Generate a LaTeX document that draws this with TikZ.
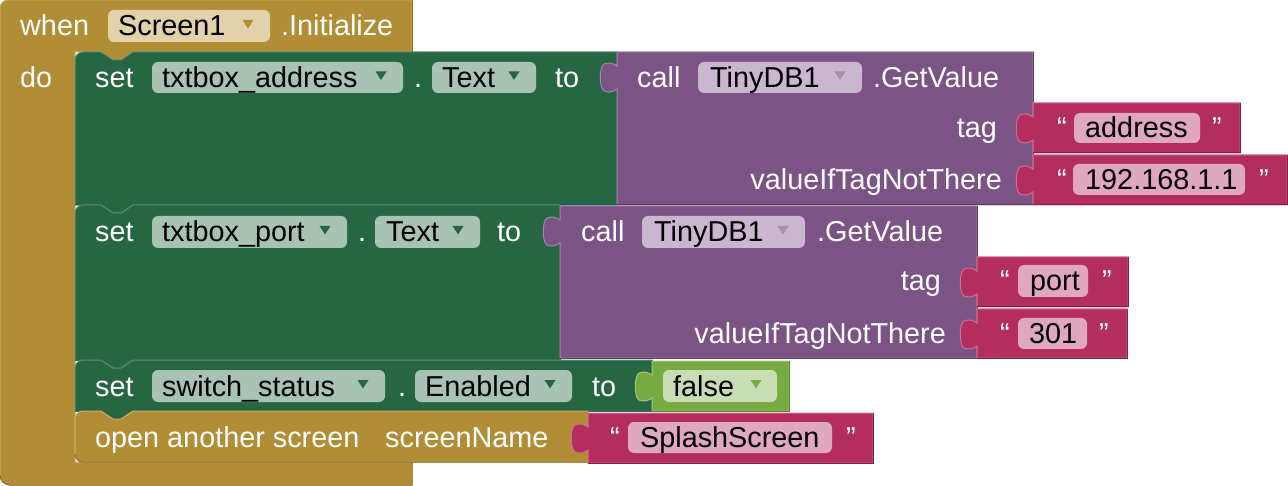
\documentclass[tikz,border=0pt]{standalone}
\usepackage{fontspec}
\setmainfont{Liberation Sans}
\newcommand{\blk}{\fontsize{28.8}{34}\selectfont}

% block palette: base, highlight (top/left) and shade (bottom/right)
\definecolor{ctl}{HTML}{B18E35}\definecolor{ctlhi}{HTML}{C9AE6A}\definecolor{ctllo}{HTML}{8C6F27}
\definecolor{set}{HTML}{266643}\definecolor{sethi}{HTML}{5D8C72}\definecolor{setlo}{HTML}{1B4B31}
\definecolor{mth}{HTML}{7C5385}\definecolor{mthhi}{HTML}{A386AA}\definecolor{mthlo}{HTML}{5B3C62}
\definecolor{txt}{HTML}{B32D5E}\definecolor{txthi}{HTML}{CF6E92}\definecolor{txtlo}{HTML}{842043}
\definecolor{lgc}{HTML}{77AB41}\definecolor{lgchi}{HTML}{A3C77E}\definecolor{lgclo}{HTML}{58822F}
% field (pill) colours
\definecolor{ctlpill}{HTML}{E1D2AC}
\definecolor{setpill}{HTML}{A8C2B4}
\definecolor{mthpill}{HTML}{C8B7CE}
\definecolor{mtharrow}{HTML}{A88EAF}
\definecolor{txtpill}{HTML}{E0A8C0}
\definecolor{lgcpill}{HTML}{C9DDB4}

% statement block: x1 y1 x2 y2 colour (notch on top, tab below)
\newcommand{\stmtblock}[5]{%
  \filldraw[fill=#5, draw=#5hi, line width=1pt]
    (#1,#2+8) .. controls (#1,#2+3.6) and (#1+3.6,#2) .. (#1+8,#2)
    -- (#1+26,#2) -- (#1+38,#2+8) -- (#1+46,#2+8) -- (#1+58,#2)
    -- (#3,#2) -- (#3,#4) -- (#1+58,#4) -- (#1+46,#4+8) -- (#1+38,#4+8)
    -- (#1+26,#4) -- (#1,#4) -- cycle;
  \draw[#5lo, line width=1pt] (#3,#2) -- (#3,#4) -- (#1+58,#4) -- (#1+46,#4+8)
    -- (#1+38,#4+8) -- (#1+26,#4) -- (#1,#4);
}
% value block with output tab on the left: x1 y1 x2 y2 colour
\newcommand{\valblock}[5]{%
  \filldraw[fill=#5, draw=#5hi, line width=1pt]
    (#1,#2) -- (#3,#2) -- (#3,#4) -- (#1,#4) -- (#1,#2+37)
    .. controls (#1-4,#2+40) and (#1-9,#2+41) .. (#1-13,#2+39)
    .. controls (#1-18,#2+36) and (#1-18,#2+15) .. (#1-13,#2+12)
    .. controls (#1-9,#2+10) and (#1-4,#2+11) .. (#1,#2+14) -- cycle;
  \draw[#5lo, line width=1pt] (#3,#2) -- (#3,#4) -- (#1,#4);
}
% field background
\newcommand{\pill}[5]{\fill[#5, rounded corners=6pt] (#1,#2) rectangle (#3,#4);}
% dropdown arrow: centre x, row centre y, colour
\newcommand{\ddarrow}[3]{\fill[#3] (#1-5.5,#2-6) -- (#1+5.5,#2-6) -- (#1,#2+2.5) -- cycle;}

\begin{document}
\begin{tikzpicture}[x=1pt, y=-1pt,
  lbl/.style={text=white, font=\blk, inner sep=0pt, anchor=base west},
  fld/.style={lbl, text=black},
  lble/.style={lbl, anchor=base east}]
\useasboundingbox (0,0) rectangle (1288,486);

% event block "when Screen1.Initialize"
\filldraw[fill=ctl, draw=ctlhi, line width=1pt]
  (0,8) .. controls (0,3.6) and (3.6,0) .. (8,0) -- (412,0) -- (412,52)
  -- (133,52) -- (121,60) -- (113,60) -- (101,52) -- (75,52) -- (75,462)
  -- (412,462) -- (412,485) -- (10,485) .. controls (4.5,485) and (0,480.5) .. (0,475) -- cycle;
\draw[ctllo, line width=1pt] (412,0) -- (412,52);
\draw[ctllo, line width=1pt] (412,462) -- (412,485) -- (10,485) .. controls (4.5,485) and (0,480.5) .. (0,475);

% statement stack
\stmtblock{75}{52}{617}{205}{set}
\stmtblock{75}{205}{560}{360}{set}
\stmtblock{75}{360}{652}{411}{set}
% open another screen (last in stack, rounded lower corner)
\filldraw[fill=ctl, draw=ctlhi, line width=1pt]
  (75,419) .. controls (75,414.6) and (78.6,411) .. (83,411)
  -- (101,411) -- (113,419) -- (121,419) -- (133,411)
  -- (588,411) -- (588,462) -- (83,462) .. controls (78.6,462) and (75,458.4) .. (75,454) -- cycle;
\draw[ctllo, line width=1pt] (588,411) -- (588,462) -- (83,462) .. controls (78.6,462) and (75,458.4) .. (75,454);

% value blocks
\valblock{617}{52}{1033}{205}{mth}
\valblock{560}{206}{977}{358}{mth}
\valblock{652}{361}{789}{411}{lgc}
\valblock{1033}{103}{1240}{153}{txt}
\valblock{1033}{155}{1287}{205}{txt}
\valblock{977}{257}{1128}{307}{txt}
\valblock{977}{309}{1127}{358}{txt}
\valblock{588}{413}{873}{463}{txt}

% fields
\pill{108}{10}{270}{42}{ctlpill}       \ddarrow{248}{26}{ctl}
\pill{152}{62}{403}{93}{setpill}       \ddarrow{381}{77.5}{set}
\pill{432}{62}{536}{93}{setpill}       \ddarrow{514}{77.5}{set}
\pill{698}{62}{862}{93}{mthpill}       \ddarrow{840}{77.5}{mtharrow}
\pill{1074}{113}{1200}{143}{txtpill}
\pill{1073}{164}{1245}{195}{txtpill}
\pill{152}{216}{347}{248}{setpill}     \ddarrow{325}{232}{set}
\pill{375}{216}{480}{248}{setpill}     \ddarrow{458}{232}{set}
\pill{642}{216}{805}{248}{mthpill}     \ddarrow{783}{232}{mtharrow}
\pill{1018}{265}{1088}{297}{txtpill}
\pill{1018}{318}{1087}{349}{txtpill}
\pill{152}{370}{385}{402}{setpill}     \ddarrow{363}{386}{set}
\pill{415}{370}{572}{402}{setpill}     \ddarrow{550}{386}{set}
\pill{663}{370}{777}{402}{lgcpill}     \ddarrow{756}{386}{lgc}
\pill{628}{422}{832}{453}{txtpill}

% labels: event header
\node[lbl] (when) at (20,36) {when};
\node[fld] (scr) at (118,36) {Screen1};
\node[lbl] (init) at (281,36) {.Initialize};
\node[lbl] (do) at (20,87.5) {do};

% set txtbox_address.Text
\node[lbl] (set1) at (95,87.5) {set};
\node[fld] (comp1) at (162,87.5) {txtbox\_address};
\node[lbl] (dot1) at (414,87.5) {.};
\node[fld] (prop1) at (442,87.5) {Text};
\node[lbl] (to1) at (555,87.5) {to};
\node[lbl] (call1) at (637,87.5) {call};
\node[fld] (db1) at (710,87.5) {TinyDB1};
\node[lbl] (gv1) at (873,87.5) {.GetValue};
\node[lble] (tag1) at (997,138) {tag};
\node[lble] (vit1) at (1002,189.5) {valueIfTagNotThere};
\node[lbl] (oq1) at (1057,138) {“};
\node[fld] (s1) at (1085,138) {address};
\node[lbl] (cq1) at (1212,138) {”};
\node[lbl] (oq2) at (1057,189.5) {“};
\node[fld] (s2) at (1085,189.5) {192.168.1.1};
\node[lbl] (cq2) at (1259,189.5) {”};

% set txtbox_port.Text
\node[lbl] (set2) at (95,242) {set};
\node[fld] (comp2) at (162,242) {txtbox\_port};
\node[lbl] (dot2) at (358,242) {.};
\node[fld] (prop2) at (386,242) {Text};
\node[lbl] (to2) at (497,242) {to};
\node[lbl] (call2) at (581,242) {call};
\node[fld] (db2) at (654,242) {TinyDB1};
\node[lbl] (gv2) at (817,242) {.GetValue};
\node[lble] (tag2) at (941,291) {tag};
\node[lble] (vit2) at (946,343.5) {valueIfTagNotThere};
\node[lbl] (oq3) at (1000,291) {“};
\node[fld] (s3) at (1030,291) {port};
\node[lbl] (cq3) at (1102,291) {”};
\node[lbl] (oq4) at (1000,343.5) {“};
\node[fld] (s4) at (1029,343.5) {301};
\node[lbl] (cq4) at (1099,343.5) {”};

% set switch_status.Enabled
\node[lbl] (set3) at (95,396) {set};
\node[fld] (comp3) at (162,396) {switch\_status};
\node[lbl] (dot3) at (398,396) {.};
\node[fld] (prop3) at (425,396) {Enabled};
\node[lbl] (to3) at (592,396) {to};
\node[fld] (bool) at (673,396) {false};

% open another screen
\node[lbl] (open) at (95,447.5) {open another screen};
\node[lbl] (sn) at (385,447.5) {screenName};
\node[lbl] (oq5) at (610,447.5) {“};
\node[fld] (s5) at (640,447.5) {SplashScreen};
\node[lbl] (cq5) at (846,447.5) {”};
\end{tikzpicture}
\end{document}
